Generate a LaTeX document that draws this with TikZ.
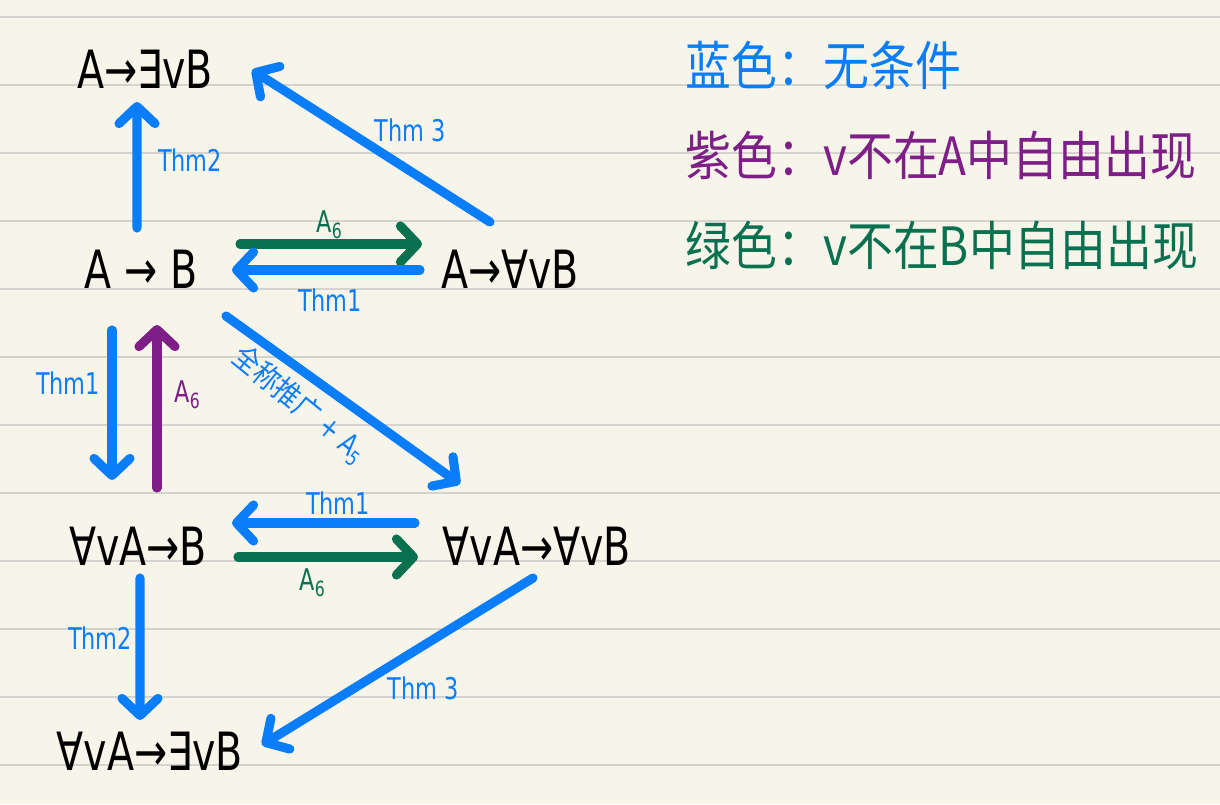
\documentclass[tikz,border=0pt]{standalone}
\usepackage{fontspec}
\usepackage{xcolor}
\usetikzlibrary{arrows.meta}
\newfontfamily\hand[FakeStretch=0.75]{DejaVu Sans}
\newfontfamily\cjk[FakeStretch=0.87]{Noto Sans CJK SC}
\definecolor{NBlue}{HTML}{0A7DFA}
\definecolor{NPurple}{HTML}{7D1F86}
\definecolor{NGreen}{HTML}{0A7150}
\definecolor{NPaper}{HTML}{F7F5EA}
\definecolor{NRule}{HTML}{D4D3CE}

\begin{document}
\begin{tikzpicture}[x=1cm,y=1cm,
  formula/.style={inner sep=0pt,text height=0.40cm,text depth=0pt,font=\hand\fontsize{15}{18}\selectfont},
  lbl/.style={inner sep=0pt,font=\hand\fontsize{8.5}{10}\selectfont},
  legend/.style={anchor=west,inner sep=0pt,font=\cjk\fontsize{15}{18}\selectfont},
  arr/.style={line width=2.6pt,line cap=round,-{Straight Barb[length=1.7mm,width=3.6mm,round]}}]
\path[use as bounding box] (0,0) rectangle (12.20,8.04);
\fill[NPaper] (0,0) rectangle (12.20,8.04);
\foreach \k in {0,...,11}
  \draw[NRule,line width=.6pt] (0,{7.87-0.68*\k}) -- (12.20,{7.87-0.68*\k});
% formulas
\node[formula] (aexb) at (1.45,7.36) {A→∃vB};
\node[formula] (ab) at (1.41,5.36) {A → B};
\node[formula] (aalb) at (5.10,5.36) {A→∀vB};
\node[formula] (alab) at (1.38,2.59) {∀vA→B};
\node[formula] (alaalb) at (5.37,2.59) {∀vA→∀vB};
\node[formula] (alaexb) at (1.50,0.54) {∀vA→∃vB};
% arrows
\draw[arr,NBlue] ([shift={(-0.04,0.40)}]ab.center) -- ([shift={(-0.08,-0.34)}]aexb.center);
\draw[arr,NBlue] ([shift={(-0.20,0.46)}]aalb.center) -- ([shift={(1.07,-0.02)}]aexb.center);
\draw[arr,NGreen] ([shift={(0.99,0.24)}]ab.center) -- ([shift={(-0.88,0.24)}]aalb.center);
\draw[arr,NBlue] ([shift={(-0.90,-0.02)}]aalb.center) -- ([shift={(0.91,-0.02)}]ab.center);
\draw[arr,NBlue] ([shift={(-0.29,-0.62)}]ab.center) -- ([shift={(-0.26,0.65)}]alab.center);
\draw[arr,NPurple] ([shift={(0.19,0.57)}]alab.center) -- ([shift={(0.16,-0.57)}]ab.center);
\draw[arr,NBlue] ([shift={(0.85,-0.48)}]ab.center) -- ([shift={(-0.77,0.61)}]alaalb.center);
\draw[arr,NBlue] ([shift={(-1.22,0.22)}]alaalb.center) -- ([shift={(0.94,0.22)}]alab.center);
\draw[arr,NGreen] ([shift={(1.00,-0.12)}]alab.center) -- ([shift={(-1.19,-0.12)}]alaalb.center);
\draw[arr,NBlue] ([shift={(0.02,-0.33)}]alab.center) -- ([shift={(-0.10,0.30)}]alaexb.center);
\draw[arr,NBlue] ([shift={(-0.04,-0.33)}]alaalb.center) -- ([shift={(1.12,0.05)}]alaexb.center);
% labels
\node[lbl,NBlue] (thmtwoa) at (1.90,6.44) {Thm2};
\node[lbl,NBlue] (thmthreea) at (4.10,6.74) {Thm 3};
\node[lbl,NGreen] (asixa) at (3.30,5.79) {A\textsubscript{6}};
\node[lbl,NBlue] (thmonea) at (3.30,5.04) {Thm1};
\node[lbl,NBlue] (thmoneb) at (0.68,4.21) {Thm1};
\node[lbl,NPurple] (asixb) at (1.88,4.09) {A\textsubscript{6}};
\node[lbl,NBlue,rotate=-39] (gen) at (3.00,3.99) {{\cjk 全称推广} + A\textsubscript{5}};
\node[lbl,NBlue] (thmonec) at (3.38,3.01) {Thm1};
\node[lbl,NGreen] (asixc) at (3.13,2.21) {A\textsubscript{6}};
\node[lbl,NBlue] (thmtwob) at (1.00,1.66) {Thm2};
\node[lbl,NBlue] (thmthreeb) at (4.23,1.16) {Thm 3};
% legend
\node[legend,NBlue] (keyblue) at (6.85,7.39) {蓝色：无条件};
\node[legend,NPurple] (keypurple) at (6.85,6.49) {紫色：v不在A中自由出现};
\node[legend,NGreen] (keygreen) at (6.85,5.59) {绿色：v不在B中自由出现};
\end{tikzpicture}
\end{document}
